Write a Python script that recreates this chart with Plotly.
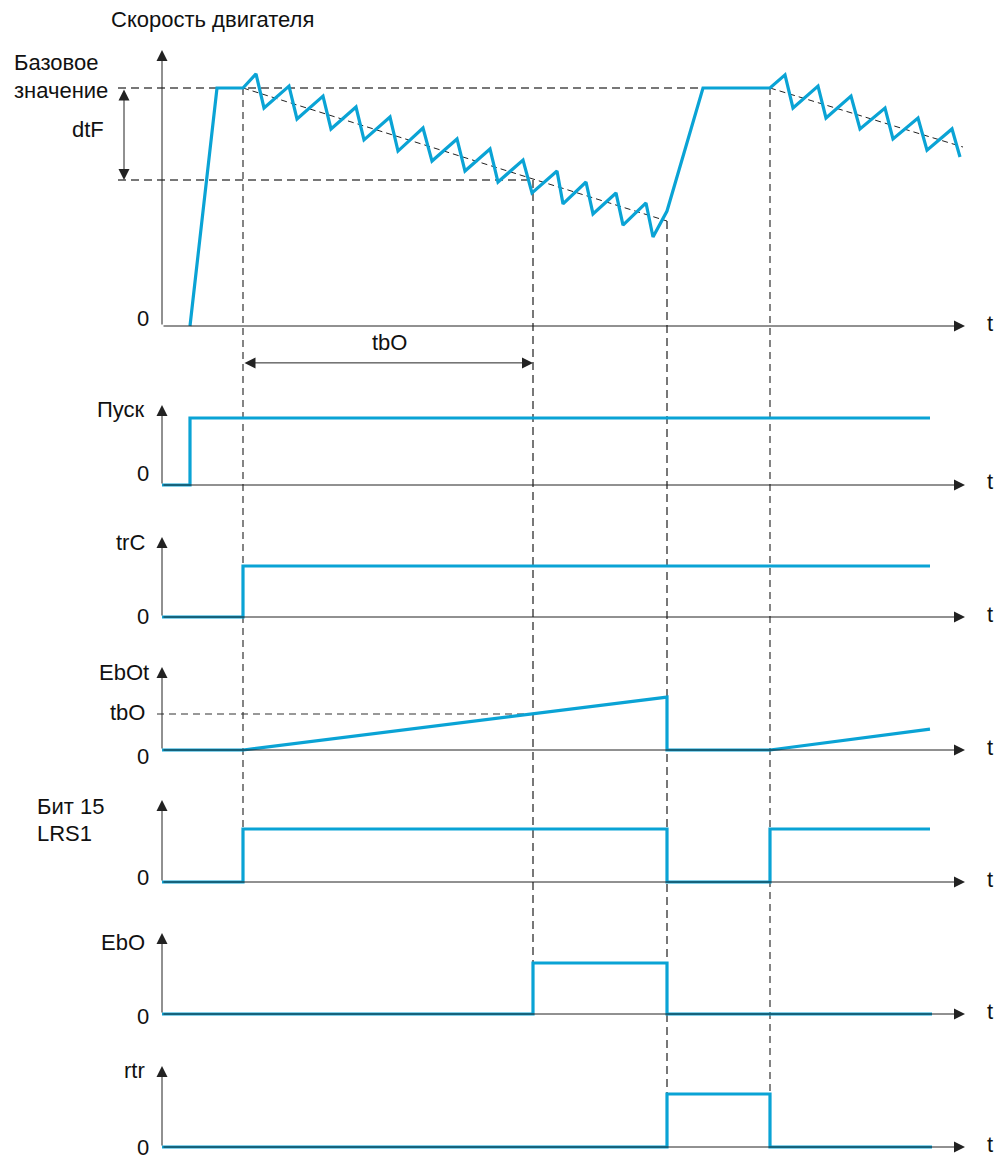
import plotly.graph_objects as go

W, H = 1008, 1159
OFF = 8  # the page body margin shifts the figure by 8 px

# ---- data (time in diagram units from the origin of the axes) ----
# motor speed, % of the base value
speed_t = [28, 55, 81, 94, 102, 127, 135, 161, 169, 194, 202, 228, 236, 261, 270,
           295, 303, 328, 336, 361, 370, 395, 401, 424, 431, 454, 461, 484, 491,
           505, 541, 608, 623, 631, 656, 664, 689, 698, 723, 731, 756, 765, 790, 798]
speed_pct = [0, 100, 100, 105.9, 91.6, 100.8, 87.0, 96.6, 82.8, 92.0, 78.2, 87.8, 73.5,
             83.2, 69.3, 78.6, 65.1, 74.4, 60.5, 69.7, 55.9, 65.1, 51.3, 60.5, 47.1,
             55.9, 42.4, 51.7, 37.4, 48.3, 100, 100, 105.5, 91.6, 100.8, 87.4, 96.6,
             82.8, 91.6, 78.6, 87.4, 73.9, 82.8, 71.0]
trend1_t, trend1_pct = [81, 505], [100, 44.1]
trend2_t, trend2_pct = [608, 801], [100, 75.2]
dtf_pct = 61.3

start_t, start_v = [0, 28, 28, 768], [0, 0, 1, 1]
trc_t, trc_v = [0, 81, 81, 768], [0, 0, 1, 1]
ebot_t, ebot_v = [0, 81, 505, 505, 608, 768], [0, 0, 1.47, 0, 0, 0.58]
tbo_level = 1
lrs1_t, lrs1_v = [0, 81, 81, 505, 505, 608, 608, 768], [0, 0, 1, 1, 0, 0, 1, 1]
ebo_t, ebo_v = [0, 371, 371, 505, 505, 770], [0, 0, 1, 1, 0, 0]
rtr_t, rtr_v = [0, 505, 505, 608, 608, 770], [0, 0, 1, 1, 0, 0]

t_trc, t_tbo, t_restart, t_run = 81, 371, 505, 608
t_axis_end = 803

BLUE = "#0AA3D5"
FONT = "Liberation Sans, Arial, sans-serif"

# panel geometry in page pixels: zero line, px per unit, domain top/bottom, arrow tip
panels = [
    dict(zero=326, unit=2.38, top=40, bot=385, tip=50),
    dict(zero=485, unit=67, top=395, bot=500, tip=405),
    dict(zero=617, unit=51, top=525, bot=635, tip=537),
    dict(zero=750, unit=36, top=655, bot=770, tip=667),
    dict(zero=882, unit=53, top=790, bot=900, tip=800),
    dict(zero=1014, unit=51, top=925, bot=1030, tip=933),
    dict(zero=1147, unit=53, top=1055, bot=1159, tip=1066),
]


def yid(i):
    return "y" if i == 0 else "y%d" % (i + 1)


def py2paper(py):
    return 1 - (py - OFF) / H


def paper_y(i, level):
    p = panels[i]
    return py2paper(p["zero"] - level * p["unit"])


fig = go.Figure()
layout = dict(
    width=W, height=H, margin=dict(l=0, r=0, t=0, b=0),
    plot_bgcolor="white", paper_bgcolor="white", showlegend=False,
    font=dict(family=FONT, size=22, color="#111"),
    xaxis=dict(domain=[0, 1], range=[-162 + OFF, W - 162 + OFF], visible=False, fixedrange=True),
)
for i, p in enumerate(panels):
    name = "yaxis" if i == 0 else "yaxis%d" % (i + 1)
    layout[name] = dict(
        domain=[py2paper(p["bot"]), py2paper(p["top"])],
        range=[(p["zero"] - p["bot"]) / p["unit"], (p["zero"] - p["top"]) / p["unit"]],
        visible=False, fixedrange=True, anchor="x",
    )
fig.update_layout(**layout)

dash_gray = dict(color="#777", width=2, dash="8px,5px")
dash_dark = dict(color="#333", width=1.2, dash="7px,5px")

# reference dashed lines in the speed panel
fig.add_trace(go.Scatter(x=[-44, t_run], y=[100, 100], mode="lines", line=dash_gray, yaxis="y"))
fig.add_trace(go.Scatter(x=[-44, t_tbo], y=[dtf_pct, dtf_pct], mode="lines", line=dash_gray, yaxis="y"))
fig.add_trace(go.Scatter(x=trend1_t, y=trend1_pct, mode="lines",
                         line=dict(color="#222", width=1, dash="6px,4px"), yaxis="y"))
fig.add_trace(go.Scatter(x=trend2_t, y=trend2_pct, mode="lines",
                         line=dict(color="#222", width=1, dash="6px,4px"), yaxis="y"))
# tbO level in EbOt panel
fig.add_trace(go.Scatter(x=[-5, t_tbo], y=[tbo_level, tbo_level], mode="lines",
                         line=dash_dark, yaxis="y4"))

# vertical event lines across panels
events = [
    (t_trc, 0, 100, 4, dash_dark),
    (t_tbo, 0, dtf_pct, 5, dash_gray),
    (t_restart, 0, trend1_pct[1], 6, dash_gray),
    (t_run, 0, 100, 6, dash_dark),
]
for t, i0, lv, i1, ln in events:
    fig.add_shape(type="line", xref="x", yref="paper", x0=t, x1=t,
                  y0=paper_y(i0, lv), y1=paper_y(i1, 0), line=ln, layer="below")

# axes with arrows
for i, p in enumerate(panels):
    tip = (p["zero"] - p["tip"]) / p["unit"]
    for (x, y) in [(0, tip), (t_axis_end, 0)]:
        fig.add_annotation(x=x, y=y, ax=0, ay=0, xref="x", yref=yid(i),
                           axref="x", ayref=yid(i), text="", showarrow=True,
                           arrowhead=2, arrowsize=2.2, arrowwidth=1, arrowcolor="#222")

# signals
signals = [(speed_t, speed_pct), (start_t, start_v), (trc_t, trc_v), (ebot_t, ebot_v),
           (lrs1_t, lrs1_v), (ebo_t, ebo_v), (rtr_t, rtr_v)]
for i, (t, v) in enumerate(signals):
    fig.add_trace(go.Scatter(x=t, y=v, mode="lines", yaxis=yid(i),
                             line=dict(color=BLUE, width=3.2)))

# dimension arrows: dtF and tbO
fig.add_annotation(x=-38, y=dtf_pct, ax=-38, ay=100, xref="x", yref="y", axref="x", ayref="y",
                   text="", showarrow=True, arrowhead=2, arrowside="end+start",
                   arrowsize=2.2, arrowwidth=1, arrowcolor="#222")
fig.add_annotation(x=t_tbo, y=-15.5, ax=t_trc, ay=-15.5, xref="x", yref="y", axref="x", ayref="y",
                   text="", showarrow=True, arrowhead=2, arrowside="end+start",
                   arrowsize=2.2, arrowwidth=1, arrowcolor="#222")


def label(text, x, y, xanchor="right"):
    fig.add_annotation(x=(x - OFF) / W, y=py2paper(y), xref="paper", yref="paper", text=text,
                       showarrow=False, xanchor=xanchor, yanchor="middle")


label("Скорость двигателя", 212, 20, "center")
label("Базовое", 12, 62, "left")
label("значение", 12, 90, "left")
label("dtF", 106, 129)
label("tbO", 389, 342, "center")
label("Пуск", 147, 410)
label("trC", 147, 542)
label("EbOt", 151, 672)
label("tbO", 147, 713)
label("Бит 15", 35, 806, "left")
label("LRS1", 35, 833, "left")
label("EbO", 147, 942)
label("rtr", 147, 1070)
for y0 in [318, 474, 616, 756, 877, 1016, 1147]:
    label("0", 151, y0)
for p in panels:
    label("t", 990, p["zero"] - 3, "center")

fig.write_html("out.html")
